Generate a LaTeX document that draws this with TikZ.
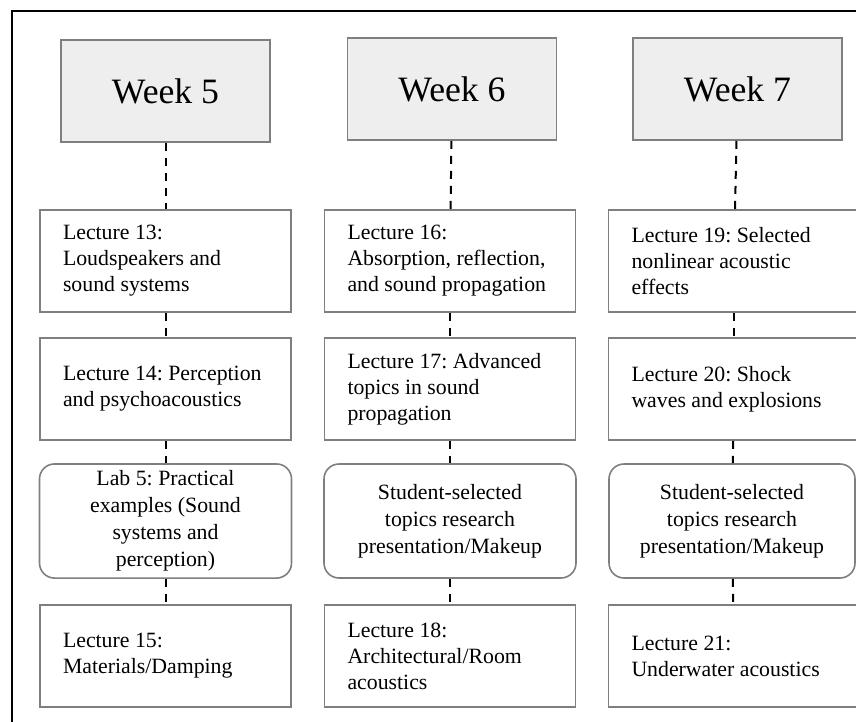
\documentclass[tikz,border=0pt]{standalone}
\usepackage{fontspec}
\setmainfont{Liberation Serif}
\frenchspacing
\definecolor{boxgray}{HTML}{7F7F7F}
\definecolor{weekfill}{HTML}{EEEEEE}
\tikzset{
  week/.style={draw=boxgray, line width=0.8pt, fill=weekfill, minimum width=104.5pt, minimum height=51pt, font=\fontsize{17.85}{21}\selectfont},
  lecture/.style={draw=boxgray, line width=0.8pt, minimum width=125.5pt, minimum height=51pt, text width=102.5pt, inner xsep=11.5pt, align=flush left, font=\fontsize{10.9}{13}\selectfont},
  lab/.style={draw=boxgray, line width=0.8pt, rounded corners=7.5pt, minimum width=126pt, minimum height=57pt, align=center, font=\fontsize{10.9}{13.5}\selectfont},
  link/.style={draw=black, line width=1pt, dash pattern=on 4pt off 3.5pt}
}

\begin{document}
\begin{tikzpicture}[x=0.5pt, y=-0.5pt]
                    \useasboundingbox (0,0) rectangle (856,722);
                    \clip (0,0) rectangle (856,722);
                    \draw[line width=1pt] (12,11) rectangle (900,760);
                    \node[week] (w5) at (165.5,91) {Week 5};
                    \node[week] (w6) at (452,89) {Week 6};
                    \node[week] (w7) at (737.5,89) {Week 7};
                    \node[lecture] (l13) at (165.5,261) {Lecture 13:\\Loudspeakers and\\sound systems};
                    \node[lecture] (l16) at (450,261) {Lecture 16:\\Absorption, reflection,\\and sound propagation};
                    \node[lecture] (l19) at (734,261) {Lecture 19: Selected\\nonlinear acoustic\\effects};
                    \node[lecture] (l14) at (165.5,389) {Lecture 14: Perception\\and psychoacoustics};
                    \node[lecture] (l17) at (450,389) {Lecture 17: Advanced\\topics in sound\\propagation};
                    \node[lecture] (l20) at (734,389) {Lecture 20: Shock\\waves and explosions};
                    \node[lab] (lab5) at (165.5,521) {Lab 5: Practical\\examples (Sound\\systems and\\perception)};
                    \node[lab] (sp6) at (450,521) {Student-selected\\topics research\\presentation/Makeup};
                    \node[lab, minimum width=123pt] (sp7) at (732,521) {Student-selected\\topics research\\presentation/Makeup};
                    \node[lecture] (l15) at (165.5,656) {Lecture 15:\\Materials/Damping};
                    \node[lecture] (l18) at (450,656) {Lecture 18:\\Architectural/Room\\acoustics};
                    \node[lecture] (l21) at (734,656) {Lecture 21:\\Underwater acoustics};
                    \draw[link] (w5) -- (l13);
                    \draw[link] (l13) -- (l14);
                    \draw[link] (l14) -- (lab5);
                    \draw[link] (lab5) -- (l15);
                    \draw[link] (w6) -- (l16);
                    \draw[link] (l16) -- (l17);
                    \draw[link] (l17) -- (sp6);
                    \draw[link] (sp6) -- (l18);
                    \draw[link] (w7) -- (l19);
                    \draw[link] (l19) -- (l20);
                    \draw[link] (l20) -- (sp7);
                    \draw[link] (sp7) -- (l21);
                  \end{tikzpicture}
\end{document}
